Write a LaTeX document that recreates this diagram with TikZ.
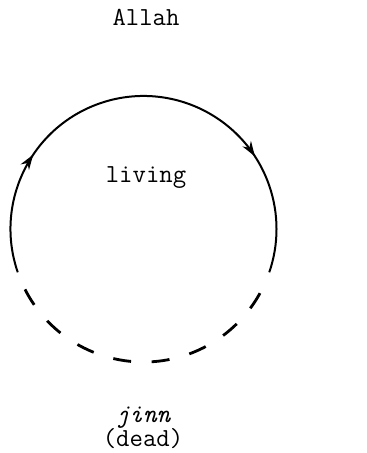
\documentclass[tikz,border=0pt]{standalone}
\usepackage{tikz}
\usetikzlibrary{
  arrows.meta,
  decorations.markings
}
\tikzset{
  >=Stealth,
  line cap=round,
  line join=round,
  label/.style={font=\fontsize{13}{15}\selectfont\ttfamily, inner sep=0pt, anchor=base},
  living/.style={line width=1pt,
    decoration={markings,
      mark=at position 0.243 with {\arrow{Stealth[length=7.5pt,width=5pt]}},
      mark=at position 0.761 with {\arrow{Stealth[length=7.5pt,width=5pt]}}},
    postaction={decorate}},
  dead/.style={line width=1.4pt, dash pattern=on 9pt off 10.3pt}
}
\begin{document}
\begin{tikzpicture}[x=0.5pt,y=0.5pt]
  \useasboundingbox (0,0) rectangle (367,453);

  \coordinate (O) at (143.5,224);

  % upper part of the circle
  \draw[living] (O) ++(199:133) arc[start angle=199, end angle=-19, radius=133];
  % lower part, dashed
  \draw[dead] (O) ++(207:133) arc[start angle=207, end angle=333, radius=133];

  \node[label] (allah) at (146,427) {Allah};
  \node[label] (living) at (146,270) {living};
  \node[label] (jinn) at (143,30) {\itshape jinn};
  \node[label] (dead) at (143,6) {(dead)};
\end{tikzpicture}
\end{document}
